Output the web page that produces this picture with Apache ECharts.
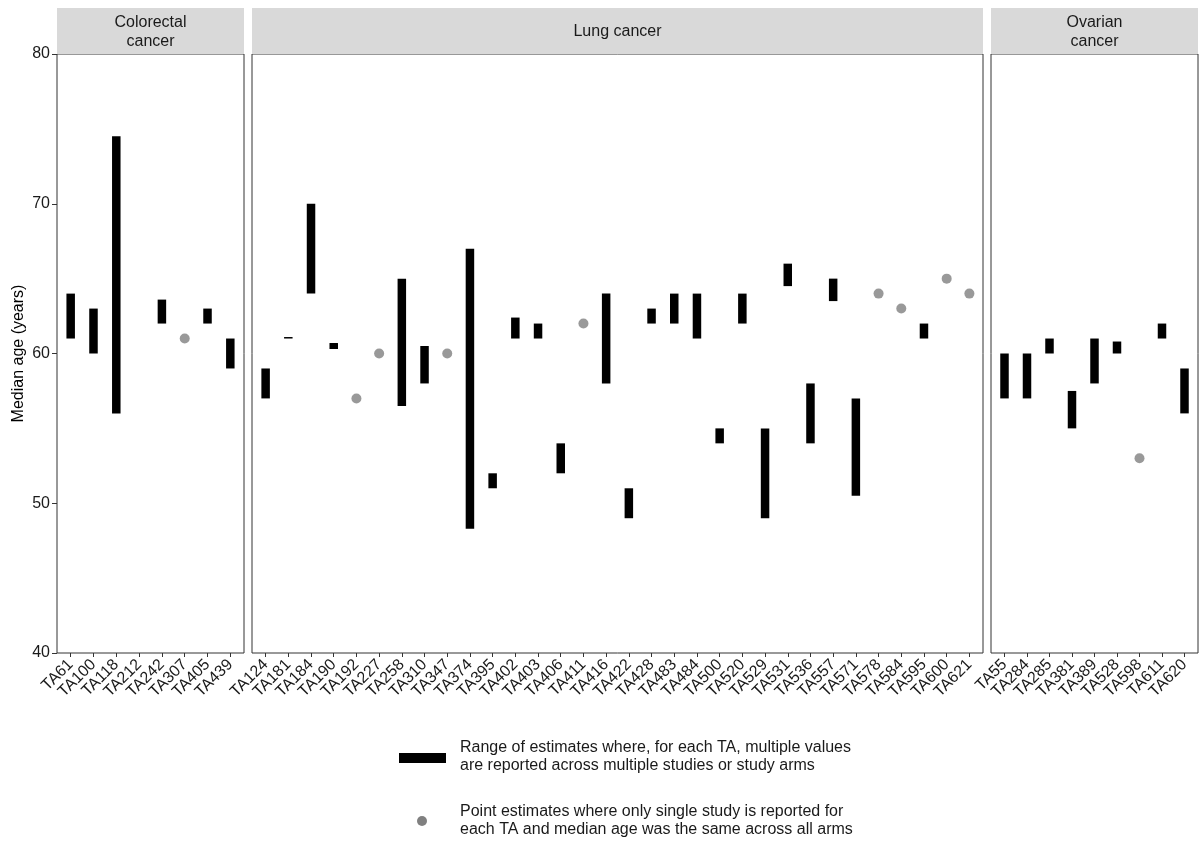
<!DOCTYPE html>
<html>
<head>
<meta charset="utf-8">
<title>Median age by TA</title>
<script src="https://cdn.jsdelivr.net/npm/echarts@6/dist/echarts.min.js"></script>
<style>
  html, body { margin: 0; padding: 0; background: #fff; }
  #chart { width: 1201px; height: 845px; }
</style>
</head>
<body>
<div id="chart"></div>
<script>
// ---- data: median age (years) per technology appraisal ----
const colorectalTAs   = ['TA61', 'TA100', 'TA118', 'TA212', 'TA242', 'TA307', 'TA405', 'TA439'];
const colorectalLow   = [61, 60, 56, null, 62, null, 62, 59];
const colorectalHigh  = [64, 63, 74.5, null, 63.6, null, 63, 61];
const colorectalPoint = [null, null, null, null, null, 61, null, null];

const lungTAs   = ['TA124', 'TA181', 'TA184', 'TA190', 'TA192', 'TA227', 'TA258', 'TA310', 'TA347', 'TA374',
                   'TA395', 'TA402', 'TA403', 'TA406', 'TA411', 'TA416', 'TA422', 'TA428', 'TA483', 'TA484',
                   'TA500', 'TA520', 'TA529', 'TA531', 'TA536', 'TA557', 'TA571', 'TA578', 'TA584', 'TA595',
                   'TA600', 'TA621'];
const lungLow   = [57, 61, 64, 60.3, null, null, 56.5, 58, null, 48.3,
                   51, 61, 61, 52, null, 58, 49, 62, 62, 61,
                   54, 62, 49, 64.5, 54, 63.5, 50.5, null, null, 61,
                   null, null];
const lungHigh  = [59, 61.1, 70, 60.7, null, null, 65, 60.5, null, 67,
                   52, 62.4, 62, 54, null, 64, 51, 63, 64, 64,
                   55, 64, 55, 66, 58, 65, 57, null, null, 62,
                   null, null];
const lungPoint = [null, null, null, null, 57, 60, null, null, 60, null,
                   null, null, null, null, 62, null, null, null, null, null,
                   null, null, null, null, null, null, null, 64, 63, null,
                   65, 64];

const ovarianTAs   = ['TA55', 'TA284', 'TA285', 'TA381', 'TA389', 'TA528', 'TA598', 'TA611', 'TA620'];
const ovarianLow   = [57, 57, 60, 55, 58, 60, null, 61, 56];
const ovarianHigh  = [60, 60, 61, 57.5, 61, 60.8, null, 62, 59];
const ovarianPoint = [null, null, null, null, null, null, 53, null, null];

const panelTitles = ['Colorectal\ncancer', 'Lung cancer', 'Ovarian\ncancer'];
const yTicks = [40, 50, 60, 70, 80];

const panels = [
  { tas: colorectalTAs, low: colorectalLow, high: colorectalHigh, point: colorectalPoint },
  { tas: lungTAs,       low: lungLow,       high: lungHigh,       point: lungPoint },
  { tas: ovarianTAs,    low: ovarianLow,    high: ovarianHigh,    point: ovarianPoint }
];

// ---- layout ----
const FONT = "'Liberation Sans', Arial, sans-serif";
const TOP = 54, HEIGHT = 599, STRIP_TOP = 8;
const boxes = [
  { left: 57,  width: 187 },
  { left: 252, width: 731 },
  { left: 991, width: 207 }
];
const BAR_W = 8.5;

const grids = [], xAxes = [], yAxes = [], series = [], graphics = [];

panels.forEach((p, i) => {
  const n = p.tas.length;
  const idx = p.tas.map((_, k) => k);

  grids.push({
    left: boxes[i].left, top: TOP, width: boxes[i].width, height: HEIGHT,
    show: true, borderColor: '#333', borderWidth: 1, backgroundColor: '#fff'
  });

  xAxes.push({
    type: 'value', gridIndex: i, min: -0.6, max: n - 0.4,
    axisLine: { show: false, onZero: false },
    splitLine: { show: false },
    axisTick: { show: true, customValues: idx, length: 4, lineStyle: { color: '#333' } },
    axisLabel: {
      show: true, customValues: idx, rotate: 45, margin: 9,
      fontFamily: FONT, fontSize: 16, color: '#1a1a1a',
      formatter: v => p.tas[Math.round(v)] || ''
    }
  });

  yAxes.push({
    type: 'value', gridIndex: i, min: 40, max: 80, interval: 10,
    name: i === 0 ? 'Median age (years)' : '',
    nameLocation: 'middle', nameGap: 30, nameRotate: 90,
    nameTextStyle: { fontFamily: FONT, fontSize: 16, color: '#000' },
    axisLine: { show: false, onZero: false },
    splitLine: { show: false },
    axisTick: { show: i === 0, length: 5, lineStyle: { color: '#333' } },
    axisLabel: {
      show: i === 0, margin: 7, fontFamily: FONT, fontSize: 16, color: '#1a1a1a',
      showMinLabel: true, showMaxLabel: true,
      customValues: yTicks
    }
  });

  // range bars (min to max across studies or arms)
  const ranges = [];
  p.tas.forEach((_, k) => {
    if (p.low[k] != null && p.high[k] != null) ranges.push([k, p.low[k], p.high[k]]);
  });
  series.push({
    type: 'custom', xAxisIndex: i, yAxisIndex: i,
    data: ranges,
    encode: { x: 0, y: [1, 2] },
    renderItem: (params, api) => {
      const x = api.value(0);
      const top = api.coord([x, api.value(2)]);
      const bot = api.coord([x, api.value(1)]);
      return {
        type: 'rect',
        shape: { x: top[0] - BAR_W / 2, y: top[1], width: BAR_W, height: Math.max(bot[1] - top[1], 1) },
        style: { fill: '#000' }
      };
    },
    silent: true
  });

  // single point estimates
  const pts = [];
  p.tas.forEach((_, k) => { if (p.point[k] != null) pts.push([k, p.point[k]]); });
  series.push({
    type: 'scatter', xAxisIndex: i, yAxisIndex: i,
    data: pts, symbol: 'circle', symbolSize: 10,
    itemStyle: { color: '#808080' }, silent: true
  });

  // facet strip
  graphics.push({
    type: 'rect',
    shape: { x: boxes[i].left, y: STRIP_TOP, width: boxes[i].width, height: TOP - STRIP_TOP },
    style: { fill: '#d9d9d9' }, silent: true
  });
  graphics.push({
    type: 'text',
    x: boxes[i].left + boxes[i].width / 2, y: 32,
    style: {
      text: panelTitles[i], fontFamily: FONT, fontSize: 16, fill: '#1a1a1a',
      align: 'center', verticalAlign: 'middle', lineHeight: 19
    }, silent: true
  });
});

// legend
graphics.push(
  { type: 'rect', shape: { x: 399, y: 753, width: 47, height: 10 }, style: { fill: '#000' }, silent: true },
  { type: 'text', x: 460, y: 757,
    style: { text: 'Range of estimates where, for each TA, multiple values\nare reported across multiple studies or study arms',
             fontFamily: FONT, fontSize: 16, fill: '#1a1a1a', verticalAlign: 'middle', lineHeight: 18 }, silent: true },
  { type: 'circle', shape: { cx: 422, cy: 821, r: 5 }, style: { fill: '#808080' }, silent: true },
  { type: 'text', x: 460, y: 821,
    style: { text: 'Point estimates where only single study is reported for\neach TA and median age was the same across all arms',
             fontFamily: FONT, fontSize: 16, fill: '#1a1a1a', verticalAlign: 'middle', lineHeight: 18 }, silent: true }
);

const chart = echarts.init(document.getElementById('chart'), null, { renderer: 'canvas' });
chart.setOption({
  backgroundColor: '#fff',
  animation: false,
  textStyle: { fontFamily: FONT },
  grid: grids,
  xAxis: xAxes,
  yAxis: yAxes,
  series: series,
  graphic: graphics
});
</script>
</body>
</html>
